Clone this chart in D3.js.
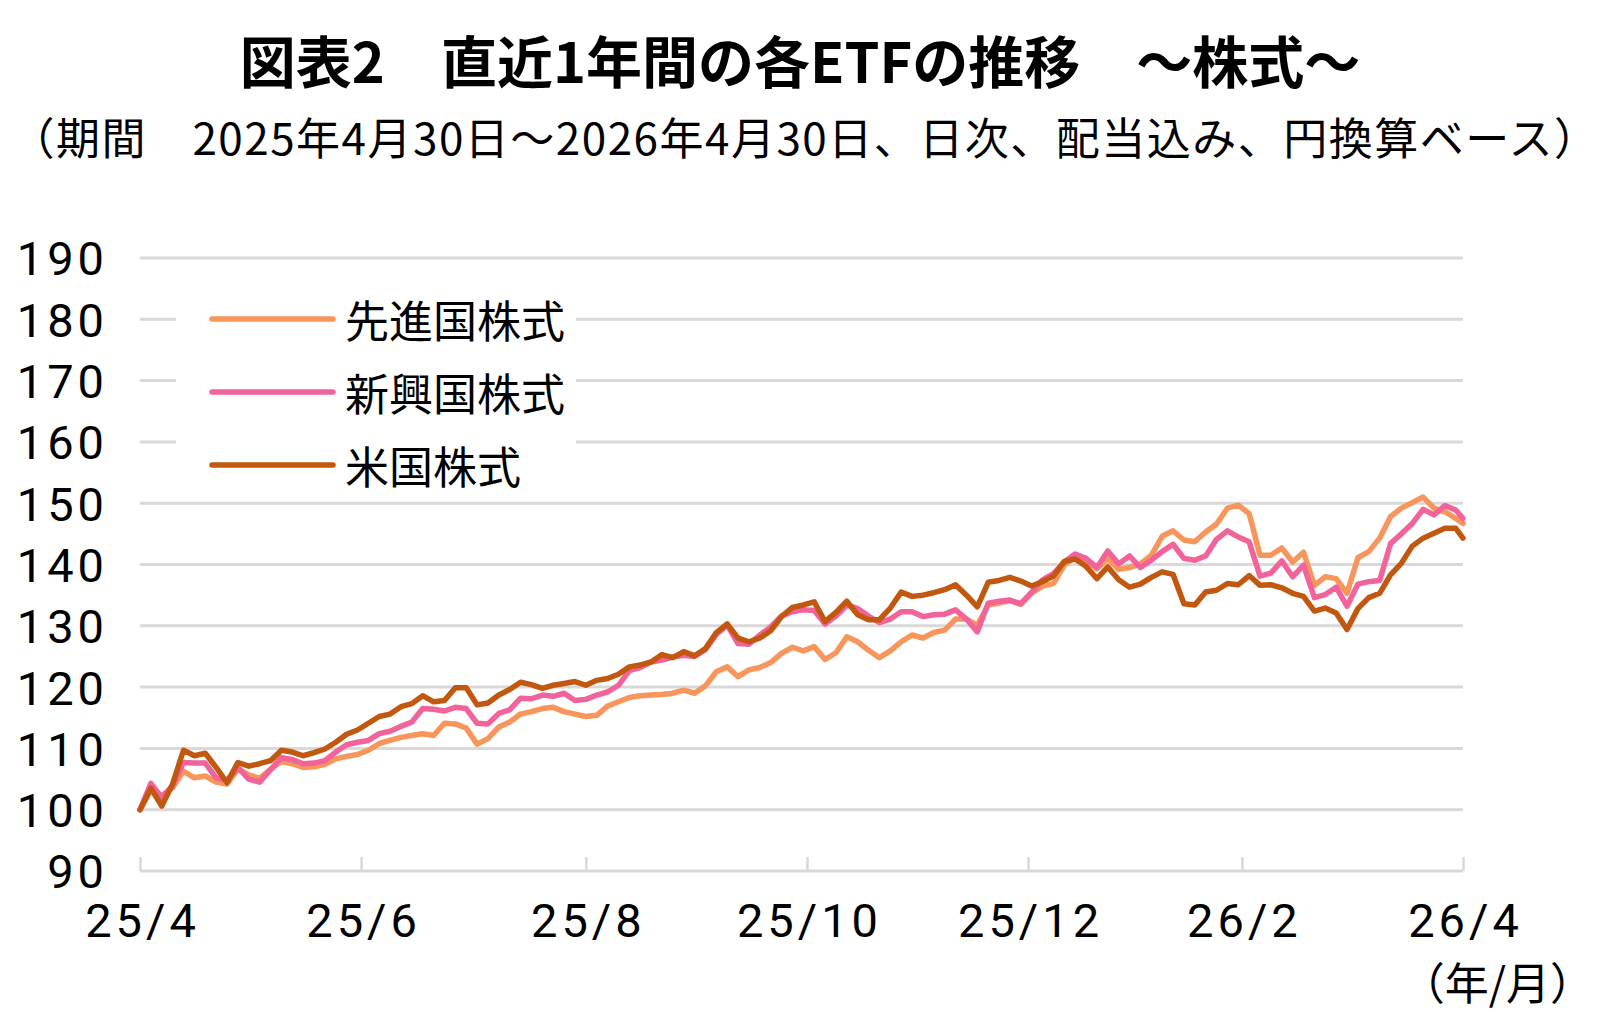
<!DOCTYPE html>
<html>
<head>
<meta charset="utf-8">
<script src="https://cdn.jsdelivr.net/npm/d3@7/dist/d3.min.js"></script>
<style>
  html, body { margin: 0; padding: 0; background: #fff; }
  svg { display: block; }
  text { font-family: "Noto Sans CJK JP", "Noto Sans", sans-serif; fill: #000; }
</style>
</head>
<body>
<svg id="chart" width="1600" height="1028"></svg>
<script>
const dates = [
  "2025-04-30","2025-05-03","2025-05-06","2025-05-09","2025-05-12","2025-05-15","2025-05-18","2025-05-21","2025-05-24","2025-05-27",
  "2025-05-30","2025-06-02","2025-06-05","2025-06-08","2025-06-11","2025-06-14","2025-06-17","2025-06-20","2025-06-23","2025-06-26",
  "2025-06-29","2025-07-02","2025-07-05","2025-07-08","2025-07-11","2025-07-14","2025-07-17","2025-07-20","2025-07-23","2025-07-26",
  "2025-07-29","2025-08-01","2025-08-04","2025-08-07","2025-08-10","2025-08-13","2025-08-16","2025-08-19","2025-08-22","2025-08-25",
  "2025-08-28","2025-08-31","2025-09-03","2025-09-06","2025-09-09","2025-09-12","2025-09-15","2025-09-18","2025-09-21","2025-09-24",
  "2025-09-27","2025-09-30","2025-10-03","2025-10-06","2025-10-09","2025-10-12","2025-10-15","2025-10-18","2025-10-21","2025-10-24",
  "2025-10-27","2025-10-30","2025-11-02","2025-11-05","2025-11-08","2025-11-11","2025-11-14","2025-11-17","2025-11-20","2025-11-23",
  "2025-11-26","2025-11-29","2025-12-02","2025-12-05","2025-12-08","2025-12-11","2025-12-14","2025-12-17","2025-12-20","2025-12-23",
  "2025-12-26","2025-12-29","2026-01-01","2026-01-04","2026-01-07","2026-01-10","2026-01-13","2026-01-16","2026-01-19","2026-01-22",
  "2026-01-25","2026-01-28","2026-01-31","2026-02-03","2026-02-06","2026-02-09","2026-02-12","2026-02-15","2026-02-18","2026-02-21",
  "2026-02-24","2026-02-27","2026-03-02","2026-03-05","2026-03-08","2026-03-11","2026-03-14","2026-03-17","2026-03-20","2026-03-23",
  "2026-03-26","2026-03-29","2026-04-01","2026-04-04","2026-04-07","2026-04-10","2026-04-13","2026-04-16","2026-04-19","2026-04-22",
  "2026-04-25","2026-04-28","2026-04-30"
];

// 先進国株式
const developed = [
  100.0,103.2,102.3,103.6,106.3,105.2,105.5,104.5,104.2,106.6,
  105.7,105.1,106.6,107.9,107.5,106.9,107.0,107.4,108.3,108.7,
  109.0,109.7,110.8,111.3,111.8,112.1,112.4,112.1,114.1,114.0,
  113.3,110.7,111.6,113.5,114.3,115.6,116.0,116.5,116.7,116.0,
  115.6,115.2,115.4,116.9,117.6,118.3,118.6,118.7,118.8,119.0,
  119.5,119.0,120.2,122.5,123.3,121.7,122.8,123.2,124.0,125.5,
  126.5,125.9,126.6,124.5,125.6,128.2,127.4,126.0,124.8,125.9,
  127.4,128.5,128.0,128.9,129.3,131.1,131.1,130.1,133.4,133.7,
  134.1,133.5,135.3,136.5,136.9,139.9,141.3,140.7,139.3,141.0,
  139.2,139.5,140.1,141.5,144.6,145.5,144.0,143.7,145.3,146.6,
  149.2,149.7,148.3,141.5,141.5,142.7,140.4,142.0,136.6,138.0,
  137.7,135.3,141.1,142.1,144.3,147.8,149.2,150.1,151.0,149.2,
  148.6,147.5,146.7
];

// 新興国株式
const emerging = [
  100.0,104.3,102.0,103.9,107.7,107.6,107.6,105.2,104.8,106.9,
  105.0,104.5,106.5,108.5,108.2,107.5,107.6,108.0,109.4,110.6,
  111.0,111.3,112.4,112.8,113.6,114.3,116.5,116.4,116.1,116.7,
  116.5,114.1,114.0,115.7,116.3,118.2,118.1,118.7,118.5,119.0,
  117.8,118.0,118.7,119.2,120.3,122.7,123.2,124.1,124.4,124.9,
  125.2,125.0,126.1,128.6,130.1,127.1,127.0,128.5,129.8,131.6,
  132.3,132.6,132.5,130.3,131.6,133.4,132.8,131.6,130.5,131.1,
  132.3,132.3,131.5,131.8,131.9,132.6,131.1,129.0,133.7,134.0,
  134.2,133.6,135.5,137.5,138.5,140.4,141.7,141.0,139.5,142.2,
  140.1,141.4,139.5,140.7,142.1,143.3,141.0,140.7,141.4,144.1,
  145.5,144.5,143.7,138.1,138.6,140.6,138.0,139.9,134.6,135.1,
  136.3,133.2,136.8,137.2,137.4,143.4,145.0,146.7,149.0,148.1,
  149.6,148.9,147.5
];

// 米国株式
const us = [
  100.0,103.5,100.6,104.2,109.7,108.8,109.2,106.9,104.4,107.7,
  107.1,107.5,108.0,109.7,109.4,108.8,109.3,109.9,111.0,112.3,
  113.0,114.1,115.2,115.6,116.8,117.3,118.6,117.6,117.8,119.9,
  119.9,117.1,117.4,118.7,119.6,120.8,120.4,119.8,120.3,120.6,
  120.9,120.3,121.1,121.4,122.1,123.3,123.6,124.1,125.3,124.8,
  125.8,125.1,126.3,128.9,130.3,128.0,127.4,128.0,129.2,131.5,
  133.0,133.4,133.9,130.7,132.2,134.0,131.8,131.0,131.0,132.9,
  135.5,134.8,135.0,135.4,135.9,136.7,135.0,133.1,137.1,137.4,
  137.9,137.3,136.5,137.2,138.1,140.5,140.9,139.7,137.7,139.6,
  137.5,136.3,136.8,137.9,138.8,138.4,133.6,133.4,135.5,135.8,
  136.9,136.7,138.2,136.6,136.7,136.2,135.3,134.8,132.4,132.9,
  132.1,129.4,132.8,134.6,135.3,138.3,140.2,143.0,144.3,145.1,
  145.9,145.9,144.3
];

const seriesNames  = ["先進国株式", "新興国株式", "米国株式"];
const seriesColors = ["#F7955B", "#F2639C", "#C2570F"];
const yTicks = [90, 100, 110, 120, 130, 140, 150, 160, 170, 180, 190];
const xTickDates  = ["2025-04-30","2025-06-30","2025-08-31","2025-10-31","2025-12-31","2026-02-28","2026-04-30"];
const xTickLabels = ["25/4","25/6","25/8","25/10","25/12","26/2","26/4"];

const titleText    = "図表2\u3000直近1年間の各ETFの推移\u3000～株式～";
const subtitleText = "（期間\u30002025年4月30日～2026年4月30日、日次、配当込み、円換算ベース）";
const unitText     = "（年/月）";

// ---- drawing ----
const parse = d3.timeParse("%Y-%m-%d");
const svg = d3.select("#chart");

const plot = { left: 140, right: 1463, top: 258, bottom: 871 };

const x = d3.scaleTime()
  .domain([parse(dates[0]), parse(dates[dates.length - 1])])
  .range([plot.left, plot.right]);
const y = d3.scaleLinear()
  .domain([90, 190])
  .range([plot.bottom, plot.top]);

const gridColor = "#d9d9d9";
const numFont = 'Roboto, "Noto Sans", sans-serif';

// title & subtitle
svg.append("text")
  .attr("x", 800).attr("y", 58)
  .attr("text-anchor", "middle")
  .attr("dominant-baseline", "central")
  .style("font-size", "56px")
  .style("font-weight", "700")
  .text(titleText);

svg.append("text")
  .attr("x", 805).attr("y", 136)
  .attr("text-anchor", "middle")
  .attr("dominant-baseline", "central")
  .style("font-size", "44px")
  .style("letter-spacing", "1.5px")
  .text(subtitleText);

// gridlines (skip the 90 line; the axis sits there)
svg.append("g")
  .selectAll("line")
  .data(yTicks.filter(v => v !== 90))
  .join("line")
  .attr("x1", plot.left).attr("x2", plot.right)
  .attr("y1", d => y(d)).attr("y2", d => y(d))
  .attr("stroke", gridColor)
  .attr("stroke-width", 3);

// y axis labels
const yAxis = d3.axisLeft(y).tickValues(yTicks).tickSize(0).tickPadding(0);
const gy = svg.append("g").attr("transform", `translate(${plot.left - 36},0)`).call(yAxis);
gy.select(".domain").remove();
gy.selectAll("text")
  .style("font-family", numFont)
  .style("font-size", "47px")
  .style("letter-spacing", "4px")
  .attr("fill", "#000")
  .attr("dx", 4)
  .attr("dy", "0.36em");

// x axis
const xAxis = d3.axisBottom(x)
  .tickValues(xTickDates.map(parse))
  .tickFormat((d, i) => xTickLabels[i])
  .tickSize(0)
  .tickPadding(0);
const gx = svg.append("g").attr("transform", `translate(0,${plot.bottom})`).call(xAxis);
gx.select(".domain")
  .attr("stroke", gridColor)
  .attr("stroke-width", 3)
  .attr("d", `M${plot.left},0H${plot.right}`);
gx.selectAll(".tick line")
  .attr("stroke", gridColor)
  .attr("stroke-width", 2.5)
  .attr("y1", 0).attr("y2", -14);
gx.selectAll("text")
  .style("font-family", numFont)
  .style("font-size", "47px")
  .style("letter-spacing", "4px")
  .attr("fill", "#000")
  .attr("dx", 2)
  .attr("y", 49)
  .attr("dy", "0.36em");

svg.append("text")
  .attr("x", 1594).attr("y", 981)
  .attr("text-anchor", "end")
  .attr("dominant-baseline", "central")
  .style("font-size", "44px")
  .text(unitText);

// lines
const allSeries = [developed, emerging, us];
const line = d3.line()
  .x((d, i) => x(parse(dates[i])))
  .y(d => y(d));

svg.append("g")
  .selectAll("path")
  .data(allSeries)
  .join("path")
  .attr("d", d => line(d))
  .attr("fill", "none")
  .attr("stroke", (d, i) => seriesColors[i])
  .attr("stroke-width", 5.5)
  .attr("stroke-linejoin", "round")
  .attr("stroke-linecap", "round");

// legend with white background
const legend = svg.append("g");
legend.append("rect")
  .attr("x", 176).attr("y", 288)
  .attr("width", 400).attr("height", 200)
  .attr("fill", "#fff");
const legendY = [319, 392, 465];
const items = legend.selectAll("g.item")
  .data(seriesNames)
  .join("g")
  .attr("class", "item")
  .attr("transform", (d, i) => `translate(0,${legendY[i]})`);
items.append("line")
  .attr("x1", 212).attr("x2", 333)
  .attr("stroke", (d, i) => seriesColors[i])
  .attr("stroke-width", 5.5)
  .attr("stroke-linecap", "round");
items.append("text")
  .attr("x", 345)
  .attr("dominant-baseline", "central")
  .style("font-size", "44px")
  .text(d => d);
</script>
</body>
</html>
